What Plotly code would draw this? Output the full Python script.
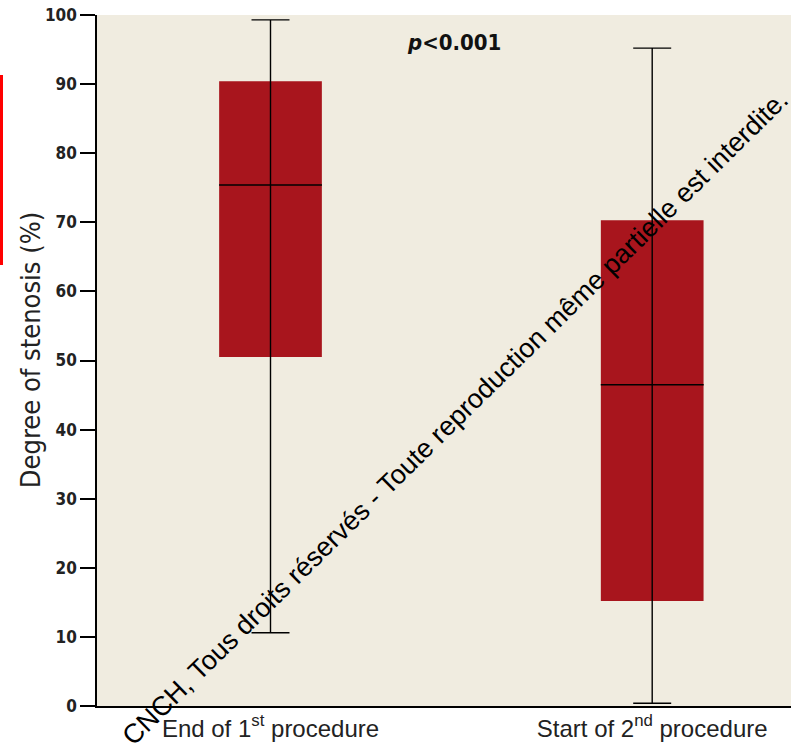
import plotly.graph_objects as go

categories = ["End of 1<sup>st</sup> procedure", "Start of 2<sup>nd</sup> procedure"]
positions = [0.25, 0.80]
q1 = [50.5, 15.2]
median = [75.4, 46.5]
q3 = [90.4, 70.3]
whisker_low = [10.6, 0.4]
whisker_high = [99.3, 95.2]
y_ticks = [0, 10, 20, 30, 40, 50, 60, 70, 80, 90, 100]

RED = "#A8151D"
BEIGE = "#F0ECE0"
COND = "DejaVu Sans Condensed"

fig = go.Figure()
fig.add_trace(go.Bar(
    x=positions, base=q1, y=[b - a for a, b in zip(q1, q3)],
    width=0.148, marker=dict(color=RED, line=dict(width=0)), hoverinfo="skip",
))
fig.add_trace(go.Scatter(
    x=positions, y=median, mode="markers",
    marker=dict(symbol="line-ew", size=73.5, color="black", line=dict(color="black", width=1.4)),
    error_y=dict(type="data", symmetric=False,
                 array=[h - m for h, m in zip(whisker_high, median)],
                 arrayminus=[m - l for m, l in zip(median, whisker_low)],
                 color="black", thickness=1.4, width=19),
))

fig.add_annotation(text="<i>p</i><0.001", x=0.514, y=0.96, xref="paper", yref="paper",
                   showarrow=False, font=dict(family=COND, size=22, color="#111", weight="bold"),
                   xanchor="center", yanchor="middle")
fig.add_annotation(text="Degree of stenosis (%)", x=-0.0965, y=0.515, xref="paper", yref="paper",
                   showarrow=False, textangle=-90, xanchor="center", yanchor="middle",
                   font=dict(family=COND, size=27, color="#222"))
fig.add_annotation(text="CNCH, Tous droits réservés - Toute reproduction même partielle est interdite.",
                   x=0.516, y=0.417, xref="paper", yref="paper", showarrow=False, textangle=-44.5,
                   font=dict(family="Liberation Sans, Arial", size=27, color="black"))

fig.add_shape(type="rect", xref="paper", yref="paper",
              x0=-97/694, x1=-94/694, y0=(706-265)/691, y1=(706-75)/691,
              fillcolor="red", line=dict(width=0))

fig.update_layout(
    width=801, height=749,
    margin=dict(l=97, r=10, t=15, b=43, autoexpand=False),
    paper_bgcolor="white", plot_bgcolor=BEIGE,
    showlegend=False,
    xaxis=dict(range=[0, 1], tickvals=positions, ticktext=categories, automargin=False,
               showgrid=False, zeroline=False, showline=True, linecolor="black", linewidth=1.5,
               ticks="", tickfont=dict(family="Liberation Sans, Arial", size=24, color="#222")),
    yaxis=dict(range=[0, 100], tickvals=y_ticks, showgrid=False, zeroline=False, automargin=False,
               showline=True, linecolor="black", linewidth=1.5, ticklabeloverflow="allow",
               ticks="outside", ticklen=15, tickwidth=1.5, tickcolor="black",
               tickfont=dict(family=COND, size=17, color="#222", weight="bold")),
)
fig.write_html("out.html", config={"displayModeBar": False},
               post_script="document.body.style.margin='0';")
